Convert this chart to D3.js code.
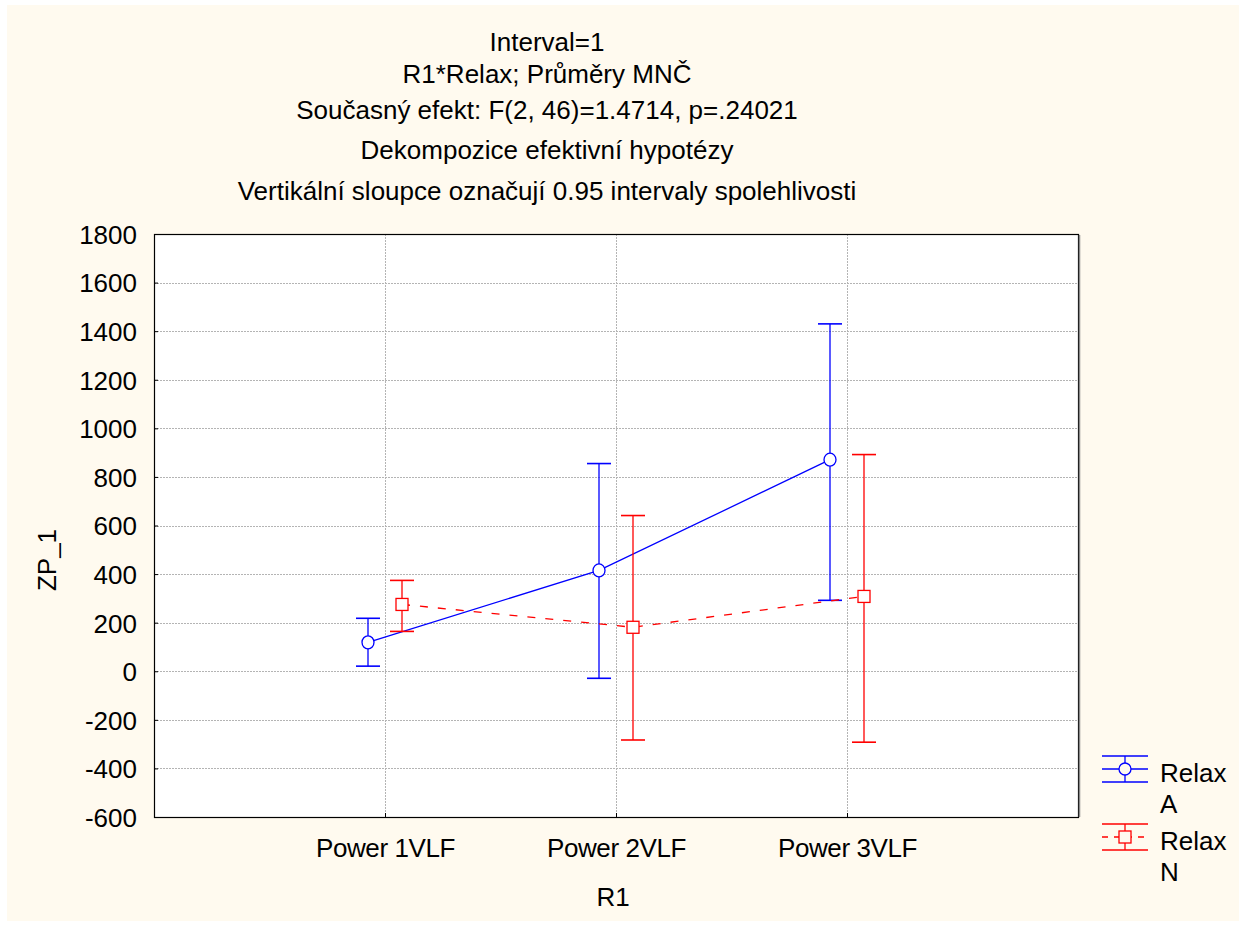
<!DOCTYPE html>
<html lang="cs">
<head>
    <meta charset="UTF-8">
    <title>Interval=1</title>
    <script src="https://d3js.org/d3.v7.js"></script>
    <style>
        body { margin: 0; background: #fff; }
        text { font-family: "Liberation Sans", Arial, sans-serif; fill: #000; }
    </style>
</head>
<body>
    <svg></svg>
    <script>
        // data
        const categories = ["Power 1VLF", "Power 2VLF", "Power 3VLF"];
        const meanA = [119, 415, 871];
        const lowA = [21, -29, 292];
        const highA = [218, 855, 1430];
        const meanN = [275, 181, 308];
        const lowN = [164, -283, -292];
        const highN = [374, 641, 892];
        const yTicks = [-600, -400, -200, 0, 200, 400, 600, 800, 1000, 1200, 1400, 1600, 1800];
        const titleLines = [
            "Interval=1",
            "R1*Relax; Průměry MNČ",
            "Současný efekt: F(2, 46)=1.4714, p=.24021",
            "Dekompozice efektivní hypotézy",
            "Vertikální sloupce označují 0.95 intervaly spolehlivosti"
        ];

        const width = 1244, height = 925;
        const plot = { left: 154, right: 1078, top: 234, bottom: 817 };
        const fs = "26px";

        const svg = d3.select("svg")
            .attr("width", width)
            .attr("height", height);

        // cream page with thin white border
        svg.append("rect")
            .attr("x", 7).attr("y", 5)
            .attr("width", width - 12).attr("height", height - 9)
            .attr("fill", "#fffaef");

        const x = d3.scalePoint()
            .domain(categories)
            .range([plot.left, plot.right])
            .padding(1);

        const y = d3.scaleLinear()
            .domain([-600, 1800])
            .range([plot.bottom, plot.top]);

        // plot area
        svg.append("rect")
            .attr("x", plot.left).attr("y", plot.top)
            .attr("width", plot.right - plot.left)
            .attr("height", plot.bottom - plot.top)
            .attr("fill", "#fff");

        // grid
        svg.append("g")
            .selectAll("line")
            .data(yTicks.slice(1, -1))
            .join("line")
            .attr("x1", plot.left).attr("x2", plot.right)
            .attr("y1", d => Math.round(y(d)) + 0.5)
            .attr("y2", d => Math.round(y(d)) + 0.5)
            .attr("stroke", "#b4b4b4")
            .attr("stroke-dasharray", "2,1");

        svg.append("g")
            .selectAll("line")
            .data(categories)
            .join("line")
            .attr("x1", d => Math.round(x(d)) + 0.5)
            .attr("x2", d => Math.round(x(d)) + 0.5)
            .attr("y1", plot.top).attr("y2", plot.bottom)
            .attr("stroke", "#b4b4b4")
            .attr("stroke-dasharray", "2,1");

        // axes
        const yAxis = svg.append("g")
            .attr("transform", `translate(${plot.left},0)`)
            .call(d3.axisLeft(y).tickValues(yTicks).tickFormat(d => String(d))
                .tickSizeInner(-4).tickSizeOuter(0).tickPadding(17));
        yAxis.selectAll("text").style("font-size", fs).attr("dy", "0.36em");
        yAxis.select(".domain").remove();

        const xAxis = svg.append("g")
            .attr("transform", `translate(0,${plot.bottom})`)
            .call(d3.axisBottom(x).tickSizeInner(-4).tickSizeOuter(0));
        xAxis.selectAll("text").style("font-size", fs).attr("y", 40).attr("dy", 0)
            .attr("letter-spacing", "-0.4px");
        xAxis.select(".domain").remove();

        // border
        svg.append("rect")
            .attr("x", plot.left + 0.5).attr("y", plot.top + 0.5)
            .attr("width", plot.right - plot.left)
            .attr("height", plot.bottom - plot.top)
            .attr("fill", "none")
            .attr("stroke", "#000")
            .attr("stroke-width", 1.2);
        svg.append("line")
            .attr("x1", plot.right + 1.5).attr("x2", plot.right + 1.5)
            .attr("y1", plot.top + 1).attr("y2", plot.bottom)
            .attr("stroke", "#888").attr("stroke-width", 1.5);

        // series
        const series = [
            { mean: meanA, low: lowA, high: highA, color: "#0000ff", dx: -17, shape: "circle", dash: null },
            { mean: meanN, low: lowN, high: highN, color: "#ff0000", dx: 17, shape: "square", dash: "8,10" }
        ];

        const line = d3.line()
            .x(d => d.x)
            .y(d => d.y);

        series.forEach(s => {
            const pts = categories.map((c, i) => ({
                x: x(c) + s.dx,
                y: y(s.mean[i]),
                lo: y(s.low[i]),
                hi: y(s.high[i])
            }));

            const g = svg.append("g");

            g.append("path")
                .attr("d", line(pts))
                .attr("fill", "none")
                .attr("stroke", s.color)
                .attr("stroke-width", 1.3)
                .attr("stroke-dasharray", s.dash);

            g.selectAll(".bar")
                .data(pts)
                .join("line")
                .attr("x1", d => d.x).attr("x2", d => d.x)
                .attr("y1", d => d.lo).attr("y2", d => d.hi)
                .attr("stroke", s.color)
                .attr("stroke-width", 1.3);

            ["lo", "hi"].forEach(k => {
                g.selectAll(".cap-" + k)
                    .data(pts)
                    .join("line")
                    .attr("x1", d => d.x - 12).attr("x2", d => d.x + 12)
                    .attr("y1", d => d[k]).attr("y2", d => d[k])
                    .attr("stroke", s.color)
                    .attr("stroke-width", 1.6);
            });

            if (s.shape === "circle") {
                g.selectAll(".mk")
                    .data(pts)
                    .join("ellipse")
                    .attr("cx", d => d.x).attr("cy", d => d.y)
                    .attr("rx", 6).attr("ry", 6.5)
                    .attr("fill", "#fff")
                    .attr("stroke", s.color)
                    .attr("stroke-width", 1.3);
            } else {
                g.selectAll(".mk")
                    .data(pts)
                    .join("rect")
                    .attr("x", d => d.x - 6).attr("y", d => d.y - 6)
                    .attr("width", 12).attr("height", 12)
                    .attr("fill", "#fff")
                    .attr("stroke", s.color)
                    .attr("stroke-width", 1.3);
            }
        });

        // titles
        svg.append("g")
            .selectAll("text")
            .data(titleLines)
            .join("text")
            .attr("x", 547)
            .attr("y", (d, i) => [51, 83, 119, 159, 200][i])
            .attr("text-anchor", "middle")
            .style("font-size", fs)
            .text(d => d);

        // axis titles
        svg.append("text")
            .attr("x", 613).attr("y", 906)
            .attr("text-anchor", "middle")
            .style("font-size", fs)
            .text("R1");

        svg.append("text")
            .attr("transform", "translate(56,560) rotate(-90)")
            .attr("text-anchor", "middle")
            .style("font-size", fs)
            .text("ZP_1");

        // legend
        const legend = [
            { label: ["Relax", "A"], color: "#0000ff", shape: "circle", dash: null, y: 769 },
            { label: ["Relax", "N"], color: "#ff0000", shape: "square", dash: "6,6", y: 837 }
        ];

        legend.forEach(l => {
            const g = svg.append("g");
            const x0 = 1102, x1 = 1148, cx = 1125;
            g.append("line").attr("x1", x0).attr("x2", x1).attr("y1", l.y - 13).attr("y2", l.y - 13)
                .attr("stroke", l.color).attr("stroke-width", 1.3);
            g.append("line").attr("x1", x0).attr("x2", x1).attr("y1", l.y + 13).attr("y2", l.y + 13)
                .attr("stroke", l.color).attr("stroke-width", 1.3);
            g.append("line").attr("x1", cx).attr("x2", cx).attr("y1", l.y - 13).attr("y2", l.y + 13)
                .attr("stroke", l.color).attr("stroke-width", 1.3);
            g.append("line").attr("x1", x0).attr("x2", x1).attr("y1", l.y).attr("y2", l.y)
                .attr("stroke", l.color).attr("stroke-width", 1.3)
                .attr("stroke-dasharray", l.dash);
            if (l.shape === "circle") {
                g.append("circle").attr("cx", cx).attr("cy", l.y).attr("r", 6)
                    .attr("fill", "#fffaef").attr("stroke", l.color).attr("stroke-width", 1.3);
            } else {
                g.append("rect").attr("x", cx - 6).attr("y", l.y - 6).attr("width", 12).attr("height", 12)
                    .attr("fill", "#fffaef").attr("stroke", l.color).attr("stroke-width", 1.3);
            }
            g.selectAll("text")
                .data(l.label)
                .join("text")
                .attr("x", 1160)
                .attr("y", (d, i) => l.y + 13 + i * 31)
                .style("font-size", fs)
                .text(d => d);
        });
    </script>
</body>
</html>
